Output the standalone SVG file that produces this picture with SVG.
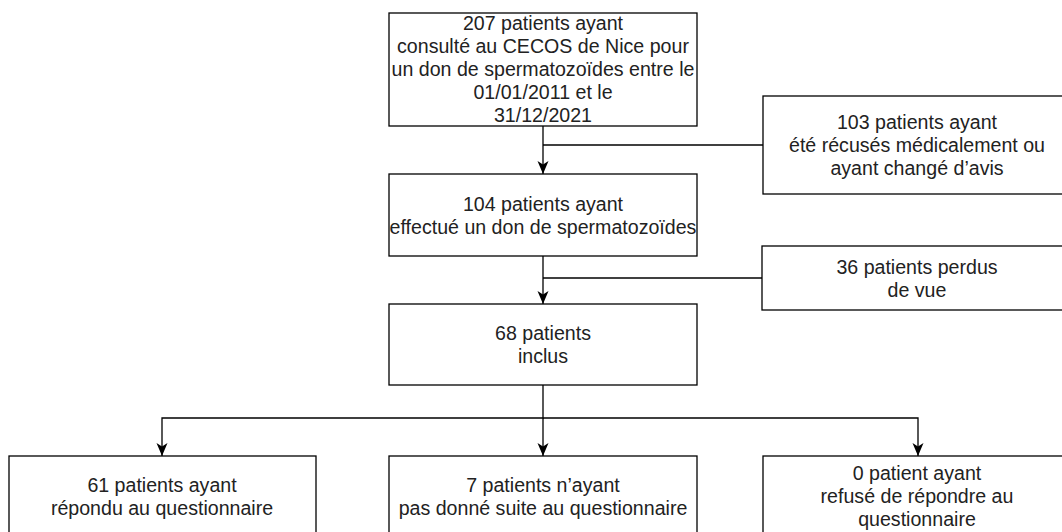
<svg xmlns="http://www.w3.org/2000/svg" width="1062" height="532" viewBox="0 0 1062 532">
<style>
.box{fill:#fff;stroke:#000;stroke-width:1.3}
.t{font-family:"Liberation Sans",Arial,sans-serif;font-size:19.6px;fill:#222;text-anchor:middle}
.c{fill:none;stroke:#000;stroke-width:1.3}
</style>
<defs>
<marker id="ah" markerUnits="userSpaceOnUse" markerWidth="13" markerHeight="13" viewBox="0 0 13 13" refX="13" refY="6.5" orient="auto">
<path d="M0,1 L13,6.5 L0,12 L3.5,6.5 Z" fill="#000"/>
</marker>
</defs>
<rect width="1062" height="532" fill="#fff"/>
<g id="connectors">
<path class="c" d="M543,126 V174" marker-end="url(#ah)"/>
<path class="c" d="M763,145 H543"/>
<path class="c" d="M543,256 V304" marker-end="url(#ah)"/>
<path class="c" d="M762,278 H543"/>
<path class="c" d="M543,385 V418 H162 V456" marker-end="url(#ah)"/>
<path class="c" d="M543,418 V456" marker-end="url(#ah)"/>
<path class="c" d="M543,418 H918 V456" marker-end="url(#ah)"/>
</g>
<g id="n1">
<rect class="box" x="389" y="13" width="308" height="113"/>
<text class="t" x="543" y="30">207 patients ayant</text>
<text class="t" x="543" y="53">consulté au CECOS de Nice pour</text>
<text class="t" x="543" y="76">un don de spermatozoïdes entre le</text>
<text class="t" x="543" y="99">01/01/2011 et le</text>
<text class="t" x="543" y="122">31/12/2021</text>
</g>
<g id="n2">
<rect class="box" x="763" y="96" width="308" height="98"/>
<text class="t" x="917" y="129">103 patients ayant</text>
<text class="t" x="917" y="152">été récusés médicalement ou</text>
<text class="t" x="917" y="175">ayant changé d’avis</text>
</g>
<g id="n3">
<rect class="box" x="389" y="174" width="308" height="82"/>
<text class="t" x="543" y="211">104 patients ayant</text>
<text class="t" x="543" y="234">effectué un don de spermatozoïdes</text>
</g>
<g id="n4">
<rect class="box" x="762" y="246" width="308" height="64"/>
<text class="t" x="917" y="274">36 patients perdus</text>
<text class="t" x="917" y="297">de vue</text>
</g>
<g id="n5">
<rect class="box" x="389" y="304" width="308" height="81"/>
<text class="t" x="543" y="340">68 patients</text>
<text class="t" x="543" y="363">inclus</text>
</g>
<g id="n6">
<rect class="box" x="9" y="456" width="307" height="82"/>
<text class="t" x="162" y="492">61 patients ayant</text>
<text class="t" x="162" y="515">répondu au questionnaire</text>
</g>
<g id="n7">
<rect class="box" x="389" y="456" width="308" height="82"/>
<text class="t" x="543" y="492">7 patients n’ayant</text>
<text class="t" x="543" y="515">pas donné suite au questionnaire</text>
</g>
<g id="n8">
<rect class="box" x="763" y="456" width="308" height="82"/>
<text class="t" x="917" y="480">0 patient ayant</text>
<text class="t" x="917" y="503">refusé de répondre au</text>
<text class="t" x="917" y="526">questionnaire</text>
</g>
</svg>
